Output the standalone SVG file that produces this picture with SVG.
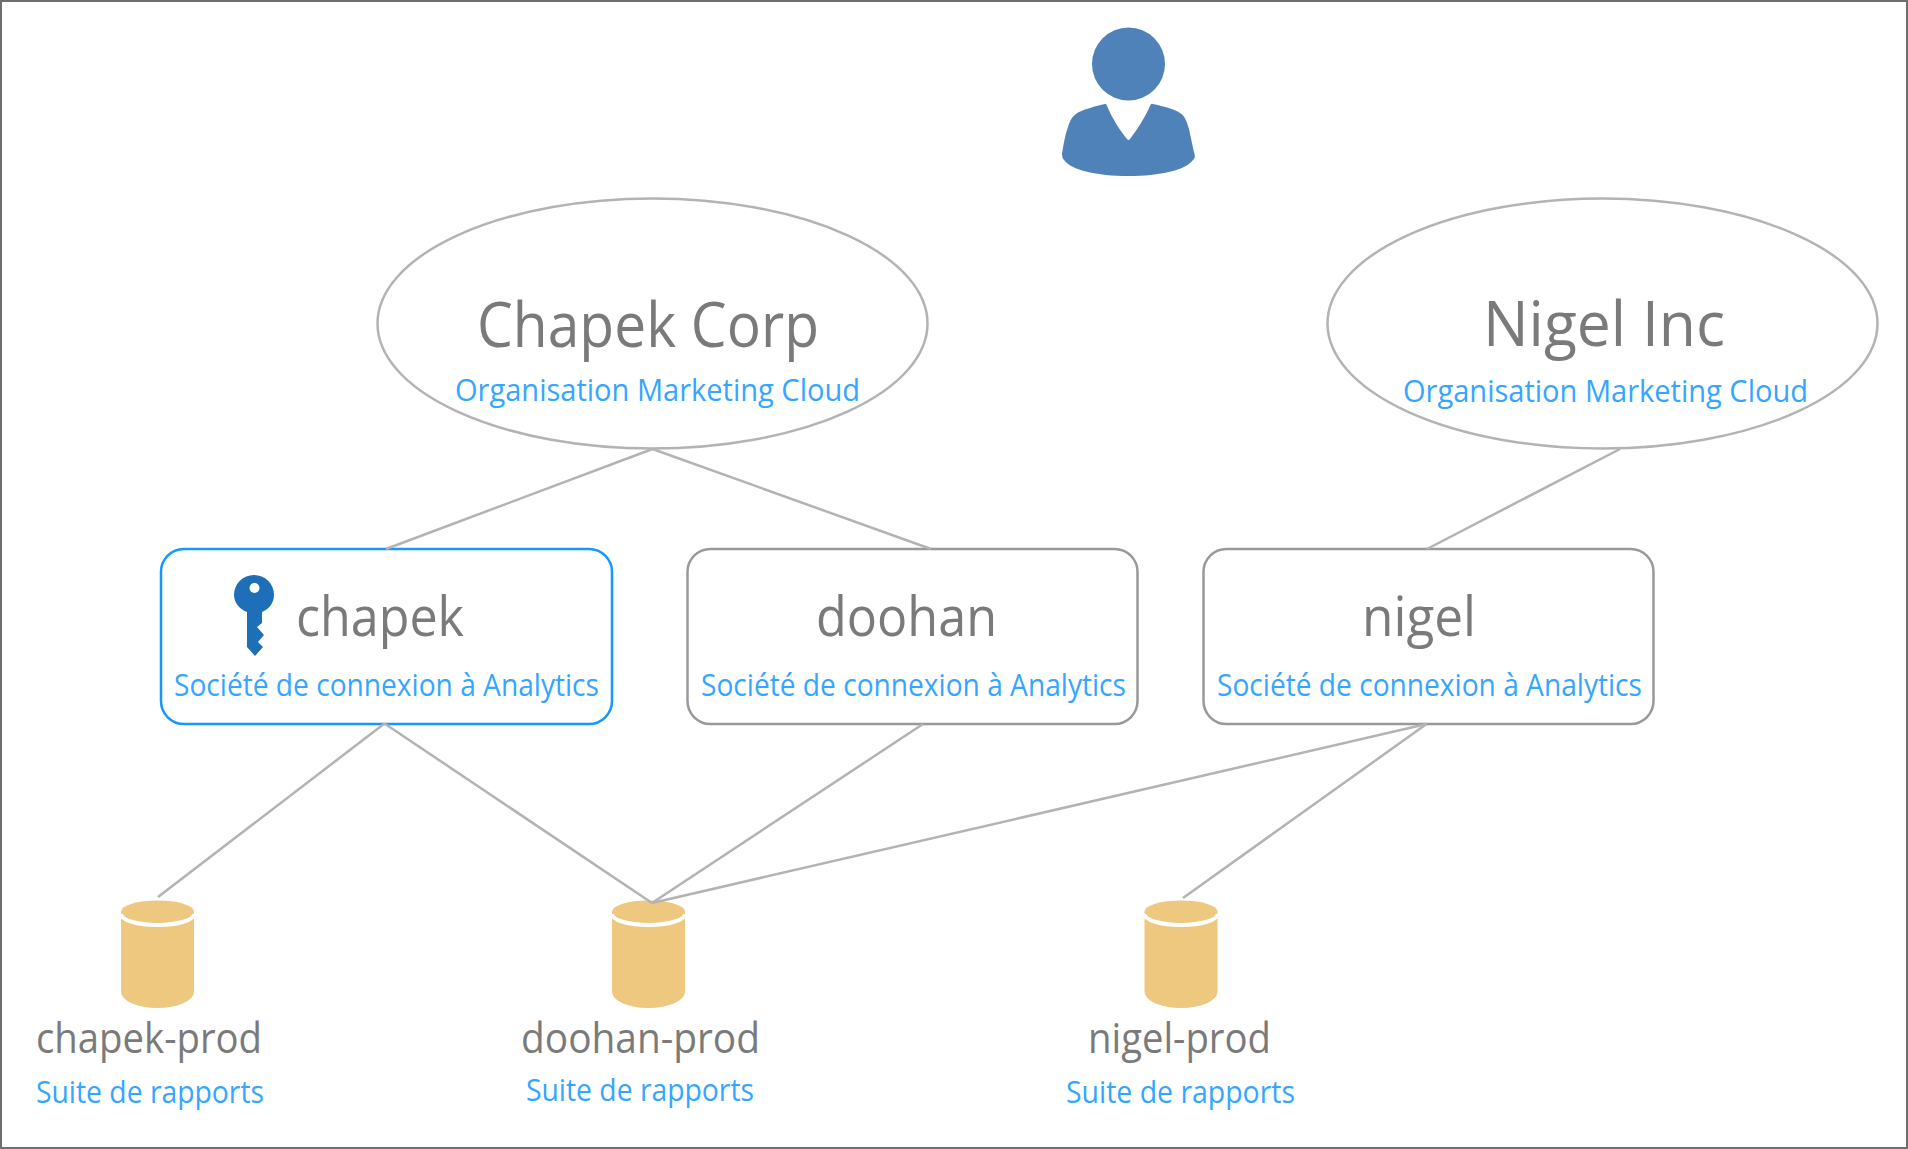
<svg xmlns="http://www.w3.org/2000/svg" width="1908" height="1149" viewBox="0 0 1908 1149">
<style>
text{font-family:"Open Sans","Noto Sans",sans-serif;font-weight:400}
.t{fill:#7a7a7a}
.s{fill:#35a6ff}
.big{font-size:62px}
.mid{font-size:55px}
.lab{font-size:42px}
.sub{font-size:31px}
.conn line{stroke:#b3b3b3;stroke-width:2.5;fill:none}
.org{fill:#fff;stroke:#b3b3b3;stroke-width:2.5}
.box{fill:#fff;stroke:#999;stroke-width:2.5}
.key{fill:#fff;stroke:#1498fb;stroke-width:2.5}
.cyl{fill:#edc87e}
.cap{fill:none;stroke:#fff;stroke-width:4}
</style>
<rect x="1" y="1" width="1906" height="1147" fill="#fff" stroke="#6e6e6e" stroke-width="2"/>
<g id="user">
<circle cx="1128.500" cy="64" r="36.500" fill="#4f82b9"/>
<path fill="#4f82b9" d="M1105 104Q1106 103 1107 106C1112 118 1121 132 1127 139Q1128.500 141 1130 139C1136 131 1145 118 1150 106Q1151 103 1153 104C1162 106 1175 109 1180 113C1185 116 1187 122 1189 129C1191 138 1193 148 1194 152Q1196 158 1193 160C1186 170 1160 176 1128.500 176C1097 176 1071 170 1064 160Q1062 158 1062 154C1063 147 1065 135 1068 127C1070 120 1073 115 1079 112C1085 109 1096 106 1105 104Z"/>
</g>
<g id="org-chapek">
<ellipse class="org" cx="652.500" cy="323.500" rx="275" ry="125"/>
<text class="t big" x="477" y="347" textLength="342" lengthAdjust="spacingAndGlyphs">Chapek Corp</text>
<text class="s sub" x="455" y="401" textLength="405" lengthAdjust="spacingAndGlyphs">Organisation Marketing Cloud</text>
</g>
<g id="org-nigel">
<ellipse class="org" cx="1602.500" cy="323.500" rx="275" ry="125"/>
<text class="t big" x="1483" y="346" textLength="242" lengthAdjust="spacingAndGlyphs">Nigel Inc</text>
<text class="s sub" x="1403" y="402" textLength="405" lengthAdjust="spacingAndGlyphs">Organisation Marketing Cloud</text>
</g>
<g id="company-chapek">
<rect class="key" x="161" y="549" width="451" height="175" rx="23"/>
<path fill="#1d70b8" d="M254 575a20 20 0 0 1 20 20c0 8-5 14-12 17v11l-5 4 7 8-6 7 5 5-8 9-8-9v-35c-8-3-13-10-13-17a20 20 0 0 1 20-20z"/>
<circle cx="254.500" cy="588" r="5" fill="#fff"/>
<text class="t mid" x="296" y="636" textLength="168" lengthAdjust="spacingAndGlyphs">chapek</text>
<text class="s sub" x="174" y="696" textLength="425" lengthAdjust="spacingAndGlyphs">Société de connexion à Analytics</text>
</g>
<g id="company-doohan">
<rect class="box" x="687.500" y="549" width="450" height="175" rx="23"/>
<text class="t mid" x="816" y="636" textLength="181" lengthAdjust="spacingAndGlyphs">doohan</text>
<text class="s sub" x="701" y="696" textLength="425" lengthAdjust="spacingAndGlyphs">Société de connexion à Analytics</text>
</g>
<g id="company-nigel">
<rect class="box" x="1203.500" y="549" width="450" height="175" rx="23"/>
<text class="t mid" x="1362" y="636" textLength="114" lengthAdjust="spacingAndGlyphs">nigel</text>
<text class="s sub" x="1217" y="696" textLength="425" lengthAdjust="spacingAndGlyphs">Société de connexion à Analytics</text>
</g>
<g id="suite-chapek">
<path class="cyl" d="M121 911.500a36.500 11 0 0 1 73 0v80.500a36.500 16 0 0 1-73 0z"/>
<path class="cap" d="M121 914a36.500 11 0 0 0 73 0"/>
<text class="t lab" x="36" y="1053" textLength="226" lengthAdjust="spacingAndGlyphs">chapek-prod</text>
<text class="s sub" x="36" y="1103" textLength="228" lengthAdjust="spacingAndGlyphs">Suite de rapports</text>
</g>
<g id="suite-doohan">
<path class="cyl" d="M612 911.500a36.500 11 0 0 1 73 0v80.500a36.500 16 0 0 1-73 0z"/>
<path class="cap" d="M612 914a36.500 11 0 0 0 73 0"/>
<text class="t lab" x="521" y="1053" textLength="239" lengthAdjust="spacingAndGlyphs">doohan-prod</text>
<text class="s sub" x="526" y="1101" textLength="228" lengthAdjust="spacingAndGlyphs">Suite de rapports</text>
</g>
<g id="suite-nigel">
<path class="cyl" d="M1144.500 911.500a36.500 11 0 0 1 73 0v80.500a36.500 16 0 0 1-73 0z"/>
<path class="cap" d="M1144.500 914a36.500 11 0 0 0 73 0"/>
<text class="t lab" x="1088" y="1053" textLength="183" lengthAdjust="spacingAndGlyphs">nigel-prod</text>
<text class="s sub" x="1066" y="1103" textLength="229" lengthAdjust="spacingAndGlyphs">Suite de rapports</text>
</g>
<g id="connectors" class="conn">
<line x1="652.500" y1="449" x2="386" y2="549"/>
<line x1="652.500" y1="449" x2="931" y2="549"/>
<line x1="1620" y1="449" x2="1427" y2="549"/>
<line x1="384.500" y1="723.500" x2="158" y2="897"/>
<line x1="384.500" y1="723.500" x2="652" y2="903"/>
<line x1="923" y1="724" x2="652" y2="903"/>
<line x1="1426.500" y1="724" x2="652" y2="903"/>
<line x1="1426.500" y1="724" x2="1183" y2="898"/>
</g>
</svg>
